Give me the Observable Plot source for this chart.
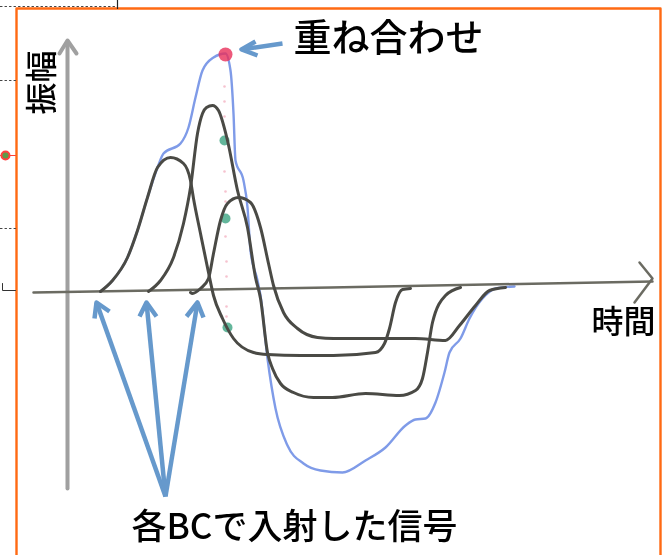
<!DOCTYPE html>
<html lang="ja">
<head>
<meta charset="utf-8">
<script src="https://cdn.jsdelivr.net/npm/d3@7"></script>
<script src="https://cdn.jsdelivr.net/npm/@observablehq/plot@0.6"></script>
<style>
html,body{margin:0;padding:0;background:#fff;overflow:hidden}
svg{display:block;filter:blur(0.6px)}
</style>
</head>
<body>
<div id="chart"></div>
<script>
// Signal traces (time, amplitude)
const timeA = [100,112,127,137,147,157,170,183,190,193,200,208,213,222,233,253,267,300,333,375,384,389,395,402,410];
const ampA  = [0,11,34,61,94,124,134,128,111,93,58,19,-4,-27,-47,-61,-63,-64,-64,-61,-52,-37,-11,2,3];
const timeB = [148,160,173,183,190,197,202,206,212,218,227,237,247,255,260,267,272,280,293,313,332,365,399,415,422,427,432,445,460];
const ampB  = [0,11,34,68,104,158,178,184,186,181,151,101,64,14,-7,-61,-77,-92,-101,-106,-106,-102,-104,-99,-87,-61,-31,-4,4];
const timeC = [190,192,200,208,213,220,227,238,250,260,268,273,283,297,317,333,365,415,445,459,475,489,505];
const ampC  = [-1,-2,3,13,38,71,88,94,89,64,28,6,-21,-37,-46,-47,-47,-47,-49,-34,-14,1,4];
const timeSum = [100,112,127,137,147,157,163,180,188,195,202,213,225,230,233,235,243,247,250,257,260,267,275,287,303,320,342,365,385,405,415,425,435,444,449,460,469,482,495,514];
const ampSum  = [0,11,34,61,94,124,138,148,164,194,221,234,238,221,178,131,111,84,41,11,-4,-67,-117,-154,-172,-179,-181,-169,-156,-134,-128,-127,-111,-81,-61,-47,-27,-7,3,5];

// Markers at the sampling time
const sampleTime = [224,225,227];
const sampleAmp  = [151,73,-36];
const peakTime = [225];
const peakAmp  = [237];
const dotTime = [224,224,224,224,225,225,225,226,226,226,226];
const dotAmp  = [205,190,175,120,100,90,55,30,15,-15,-25];

// Labels
const labelSum = "重ね合わせ";
const labelIn = "各BCで入射した信号";
const labelTime = "時間";
const labelAmp = "振幅";

const pairs = (xs, ys) => xs.map((x, i) => ({x, y: ys[i]}));
const seg = (...p) => p.map(([x, y]) => ({x, y}));
const jp = "'Noto Sans CJK JP'";

// Axis, arrows and frame paths
const xAxisLine = seg([33,-1],[330,4],[652,10]);
const xAxisHead = seg([639,29],[652,13],[634,-11]);
const yAxisLine = seg([67,-197],[67,250]);
const yAxisHead = seg([59,238],[67,251],[76,238]);
const arrowLines = [
  seg([165,-205],[96,-11]), seg([165,-205],[146,-11]), seg([165,-205],[197,-11]),
  seg([94,-27],[96,-11],[109,-20]), seg([139,-25],[146,-11],[156,-25]), seg([186,-25],[197,-11],[203,-26]),
  seg([282,248],[241,242]), seg([255,250],[241,242],[257,236])
];
const frame = seg([16,-264],[16,283],[660,283],[660,-264]);
const stray = [seg([0,211],[15,211]), seg([0,63],[15,63])];

const blk = "#4a4a45";
const marks = [
  Plot.line(frame, {x:"x", y:"y", stroke:"#ff6a13", strokeWidth:2.4}),
  Plot.line(seg([0,285],[116,285]), {x:"x", y:"y", stroke:"#444", strokeWidth:1.2, strokeDasharray:"1.5 3"}),
  Plot.line(seg([117,291],[117,283]), {x:"x", y:"y", stroke:"#222", strokeWidth:1.2}),
  ...stray.map(s => Plot.line(s, {x:"x", y:"y", stroke:"#444", strokeWidth:1.2, strokeDasharray:"1.5 3"})),
  Plot.line(seg([0,136],[15,136]), {x:"x", y:"y", stroke:"#ff4030", strokeWidth:1}),
  Plot.dot([{x:5,y:136}], {x:"x", y:"y", r:4, fill:"#5e9a4a", stroke:"#ff4040", strokeWidth:2}),
  Plot.line(seg([2,8],[2,1],[15,1]), {x:"x", y:"y", stroke:"#333", strokeWidth:1}),

  Plot.line(yAxisLine, {x:"x", y:"y", stroke:"#a0a0a0", strokeWidth:4}),
  Plot.line(yAxisHead, {x:"x", y:"y", stroke:"#a0a0a0", strokeWidth:4}),

  Plot.dot(pairs(dotTime, dotAmp), {x:"x", y:"y", r:1.3, fill:"#f6c3cf"}),
  Plot.line(pairs(timeSum, ampSum), {x:"x", y:"y", curve:"monotone-x", stroke:"#7f9be8", strokeWidth:2.4}),
  Plot.dot(pairs(sampleTime, sampleAmp), {x:"x", y:"y", r:5, fill:"#2f9d7a", fillOpacity:0.75}),

  Plot.line(xAxisLine, {x:"x", y:"y", stroke:"#6b6b62", strokeWidth:2.5}),
  Plot.line(xAxisHead, {x:"x", y:"y", stroke:"#6b6b62", strokeWidth:2.5}),
  Plot.line(pairs(timeA, ampA), {x:"x", y:"y", curve:"monotone-x", stroke:blk, strokeWidth:3}),
  Plot.line(pairs(timeB, ampB), {x:"x", y:"y", curve:"monotone-x", stroke:blk, strokeWidth:3}),
  Plot.line(pairs(timeC, ampC), {x:"x", y:"y", curve:"monotone-x", stroke:blk, strokeWidth:3}),

  Plot.dot(pairs(peakTime, peakAmp), {x:"x", y:"y", r:7, fill:"#e8305a", fillOpacity:0.8}),
  ...arrowLines.map(s => Plot.line(s, {x:"x", y:"y", stroke:"#6699cc", strokeWidth:4.5, strokeLinecap:"butt"})),

  Plot.text([labelSum], {x:()=>388, y:()=>253, text:d=>d, fontFamily:jp, fontSize:38, fontWeight:500, fill:"#000"}),
  Plot.text([labelIn], {x:()=>294, y:()=>-236, text:d=>d, fontFamily:jp, fontSize:35, fontWeight:500, fill:"#000"}),
  Plot.text([labelTime], {x:()=>623, y:()=>-31, text:d=>d, fontFamily:jp, fontSize:32, fontWeight:500, fill:"#000"}),
  Plot.text([labelAmp], {x:()=>42, y:()=>209, text:d=>d, rotate:-90, fontFamily:jp, fontSize:32, fontWeight:500, fill:"#000"})
];

const plot = Plot.plot({
  width: 664, height: 555,
  marginTop: 0, marginRight: 0, marginBottom: 0, marginLeft: 0,
  x: {domain: [0, 664], range: [0, 664], axis: null},
  y: {domain: [291, -264], range: [0, 555], axis: null},
  style: {background: "#fff"},
  marks
});
document.getElementById("chart").appendChild(plot);
</script>
</body>
</html>
